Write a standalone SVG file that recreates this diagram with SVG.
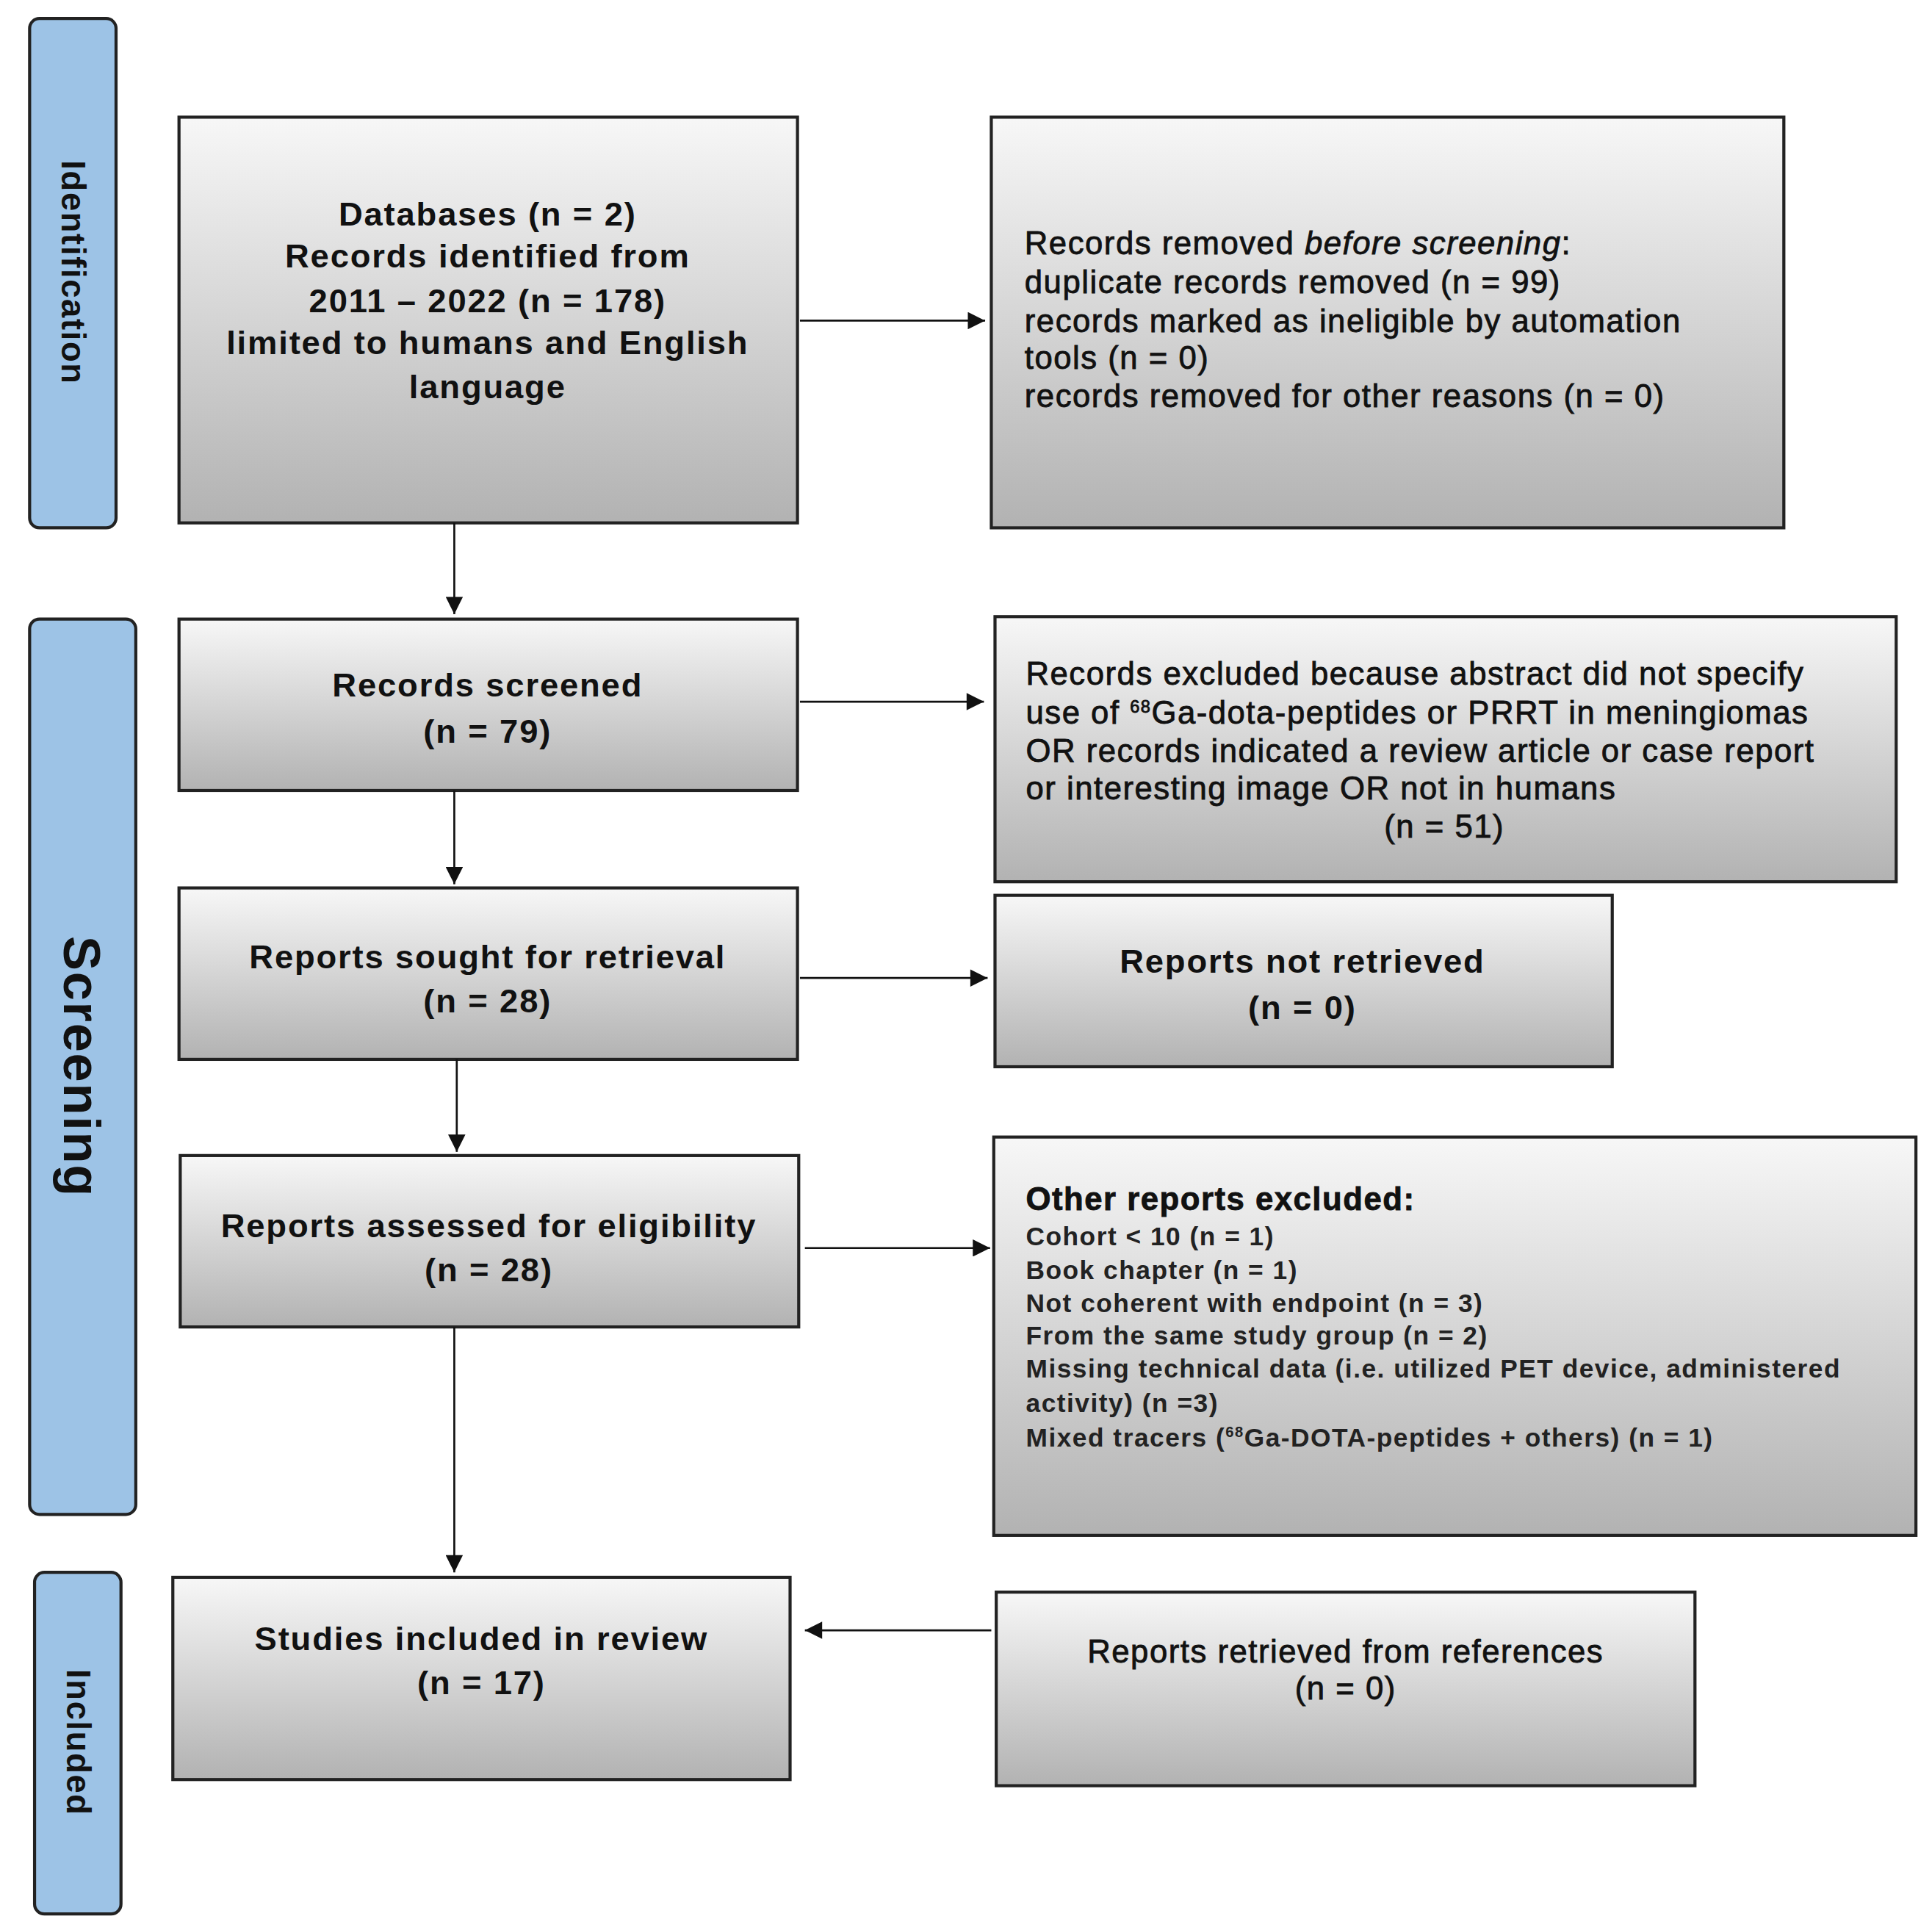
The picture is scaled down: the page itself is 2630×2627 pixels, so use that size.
<svg xmlns="http://www.w3.org/2000/svg" width="2630" height="2627" viewBox="0 0 2630 2627">
<style>
.bar{fill:#9dc3e6;stroke:#222;stroke-width:2.5}
.box{fill:url(#g);stroke:#222;stroke-width:2.5}
.lt{font-family:"Liberation Sans",Arial,sans-serif;font-weight:bold;font-size:27px;letter-spacing:1.1px;fill:#111;text-anchor:middle}
.rt{font-family:"Liberation Sans",Arial,sans-serif;font-size:26px;letter-spacing:0.9px;fill:#111;stroke:#111;stroke-width:0.5}
.ot{font-family:"Liberation Sans",Arial,sans-serif;font-size:21px;letter-spacing:0.9px;font-weight:bold;fill:#222}
.side{font-family:"Liberation Sans",Arial,sans-serif;font-weight:bold;fill:#111;text-anchor:middle}
.c{stroke:#111;stroke-width:1.6;fill:none;marker-end:url(#a)}
</style>
<defs>
<linearGradient id="g" x1="0" y1="0" x2="0" y2="1"><stop offset="0" stop-color="#f7f7f7"/><stop offset="1" stop-color="#b2b2b2"/></linearGradient>
<marker id="a" viewBox="0 0 10 10" refX="10" refY="5" markerWidth="17" markerHeight="14" markerUnits="userSpaceOnUse" orient="auto"><path d="M0,0L10,5L0,10z" fill="#111"/></marker>
</defs>
<rect width="2630" height="2627" fill="#fff"/>
<g transform="scale(1.6805 1.6786)">
<g id="bar-identification"><rect class="bar" x="24" y="15" width="70" height="413" rx="8"/><text class="side" font-size="27" letter-spacing="1" transform="translate(50 221) rotate(90)">Identification</text></g>
<g id="bar-screening"><rect class="bar" x="24" y="502" width="86" height="726" rx="8"/><text class="side" font-size="42" letter-spacing="1" transform="translate(52 865) rotate(90)">Screening</text></g>
<g id="bar-included"><rect class="bar" x="28" y="1275" width="70" height="277" rx="8"/><text class="side" font-size="27" letter-spacing="1" transform="translate(54 1413) rotate(90)">Included</text></g>

<g id="n-databases"><rect class="box" x="145" y="95" width="501" height="329"/>
<text class="lt" x="395" y="183">Databases (n = 2)</text><text class="lt" x="395" y="217">Records identified from</text><text class="lt" x="395" y="253">2011 – 2022 (n = 178)</text><text class="lt" x="395" y="287">limited to humans and English</text><text class="lt" x="395" y="323">language</text></g>
<g id="n-removed"><rect class="box" x="803" y="95" width="642" height="333"/>
<text class="rt" x="830" y="206">Records removed <tspan font-style="italic">before screening</tspan>:</text><text class="rt" x="830" y="238">duplicate records removed (n = 99)</text><text class="rt" x="830" y="269">records marked as ineligible by automation</text><text class="rt" x="830" y="299">tools (n = 0)</text><text class="rt" x="830" y="330">records removed for other reasons (n = 0)</text></g>
<g id="n-screened"><rect class="box" x="145" y="502" width="501" height="139"/><text class="lt" x="395" y="565">Records screened</text><text class="lt" x="395" y="602">(n = 79)</text></g>
<g id="n-excluded"><rect class="box" x="806" y="500" width="730" height="215"/>
<text class="rt" x="831" y="555">Records excluded because abstract did not specify</text><text class="rt" x="831" y="587">use of <tspan font-size="14" dy="-9">68</tspan><tspan dy="9">Ga-dota-peptides or PRRT in meningiomas</tspan></text><text class="rt" x="831" y="618">OR records indicated a review article or case report</text><text class="rt" x="831" y="648">or interesting image OR not in humans</text><text class="rt" x="1170" y="679" text-anchor="middle">(n = 51)</text></g>
<g id="n-sought"><rect class="box" x="145" y="720" width="501" height="139"/><text class="lt" x="395" y="785">Reports sought for retrieval</text><text class="lt" x="395" y="821">(n = 28)</text></g>
<g id="n-notretrieved"><rect class="box" x="806" y="726" width="500" height="139"/><text class="lt" x="1055" y="789">Reports not retrieved</text><text class="lt" x="1055" y="826">(n = 0)</text></g>
<g id="n-assessed"><rect class="box" x="146" y="937" width="501" height="139"/><text class="lt" x="396" y="1003">Reports assessed for eligibility</text><text class="lt" x="396" y="1039">(n = 28)</text></g>
<g id="n-other"><rect class="box" x="805" y="922" width="747" height="323"/>
<text class="rt" x="831" y="981" font-weight="bold" font-size="25" stroke-width="0">Other reports excluded:</text>
<text class="ot" x="831" y="1010">Cohort &lt; 10 (n = 1)</text><text class="ot" x="831" y="1037">Book chapter (n = 1)</text><text class="ot" x="831" y="1064">Not coherent with endpoint (n = 3)</text><text class="ot" x="831" y="1090">From the same study group (n = 2)</text><text class="ot" x="831" y="1117">Missing technical data (i.e. utilized PET device, administered</text><text class="ot" x="831" y="1145">activity) (n =3)</text><text class="ot" x="831" y="1173">Mixed tracers (<tspan font-size="12" dy="-8">68</tspan><tspan dy="8">Ga-DOTA-peptides + others) (n = 1)</tspan></text></g>
<g id="n-included"><rect class="box" x="140" y="1279" width="500" height="164"/><text class="lt" x="390" y="1338">Studies included in review</text><text class="lt" x="390" y="1374">(n = 17)</text></g>
<g id="n-refs"><rect class="box" x="807" y="1291" width="566" height="157"/><text class="rt" x="1090" y="1348" text-anchor="middle">Reports retrieved from references</text><text class="rt" x="1090" y="1378" text-anchor="middle">(n = 0)</text></g>

<g id="connectors">
<path class="c" d="M648,260H798"/>
<path class="c" d="M368,424V498"/>
<path class="c" d="M648,569H797"/>
<path class="c" d="M368,641V717"/>
<path class="c" d="M648,793H800"/>
<path class="c" d="M370,859V934"/>
<path class="c" d="M652,1012H802"/>
<path class="c" d="M368,1076V1275"/>
<path class="c" d="M803,1322H652"/>
</g>
</g>
</svg>
